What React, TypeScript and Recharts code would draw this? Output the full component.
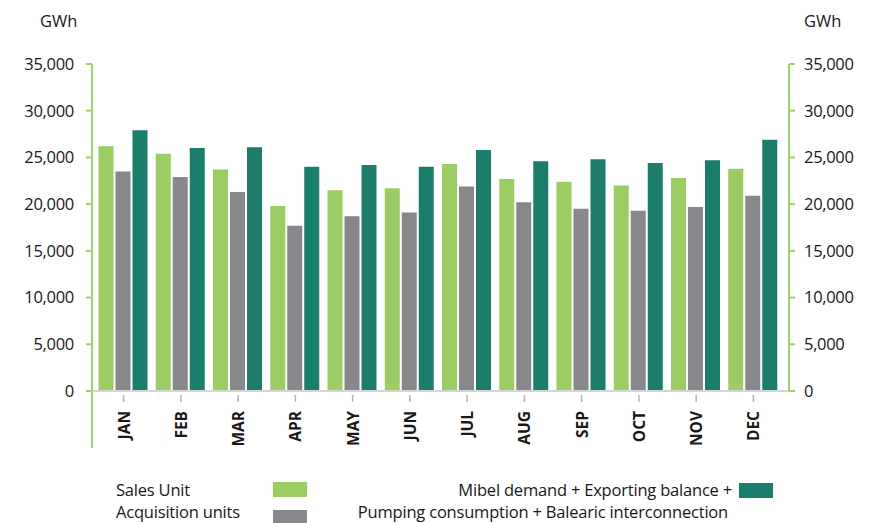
import React from 'react';
import { BarChart, Bar, XAxis, YAxis, Customized } from 'recharts';

const MONTHS = ['JAN', 'FEB', 'MAR', 'APR', 'MAY', 'JUN', 'JUL', 'AUG', 'SEP', 'OCT', 'NOV', 'DEC'];
const SALES_UNIT = [26200, 25400, 23700, 19800, 21500, 21700, 24300, 22700, 22400, 22000, 22800, 23800];
const ACQUISITION_UNITS = [23500, 22900, 21300, 17700, 18700, 19100, 21900, 20200, 19500, 19300, 19700, 20900];
const MIBEL_DEMAND = [27900, 26000, 26100, 24000, 24200, 24000, 25800, 24600, 24800, 24400, 24700, 26900];
const Y_TICKS = [0, 5000, 10000, 15000, 20000, 25000, 30000, 35000];

const data = MONTHS.map((m, i) => ({
  month: m,
  sales: SALES_UNIT[i],
  acquisition: ACQUISITION_UNITS[i],
  mibel: MIBEL_DEMAND[i],
}));

const W = 875;
const H = 523;
const MARGIN = { top: 64, right: 10, bottom: 62, left: 10 };
const LEFT_AXIS_W = 82;
const RIGHT_AXIS_W = 76;
const XAXIS_H = 70;
const FONT = '"Open Sans", "Noto Sans", sans-serif';
const TEXT = '#1a1718';
const AXIS_GREEN = '#9dd36c';
const C_SALES = '#9ccd62';
const C_ACQ = '#88878c';
const C_MIBEL = '#1b7e6c';

const fmt = (v: number) => v.toLocaleString('en-US');

const XTick = (props: any) => {
  const { x, y, payload } = props;
  return (
    <g>
      <line x1={x} x2={x} y1={y + 4} y2={y + 11} stroke="#b5b5b5" strokeWidth={1.5} />
      <text
        x={0}
        y={0}
        transform={`translate(${x},${y + 20}) rotate(-90)`}
        textAnchor="end"
        dominantBaseline="central"
        fontFamily={FONT}
        fontWeight={700}
        fontSize={15.5}
        fill={TEXT}
      >
        {payload.value}
      </text>
    </g>
  );
};

const AxisExtension = () => {
  const x = MARGIN.left + LEFT_AXIS_W;
  const y0 = H - MARGIN.bottom - XAXIS_H;
  return <line x1={x} x2={x} y1={y0} y2={y0 + 57} stroke={AXIS_GREEN} strokeWidth={2} />;
};

const LegendBlock = () => {
  const txt: React.CSSProperties = {
    position: 'absolute',
    fontFamily: FONT,
    fontSize: 16.5,
    color: TEXT,
    whiteSpace: 'nowrap',
    lineHeight: '18px',
    letterSpacing: '-0.2px',
  };
  const sw: React.CSSProperties = { position: 'absolute', width: 34, height: 15 };
  return (
    <div style={{ position: 'absolute', left: 0, top: 470, width: W, height: 53, overflow: 'hidden' }}>
      <div style={{ ...txt, left: 116, top: 11 }}>Sales Unit</div>
      <div style={{ ...sw, left: 273, top: 12, background: C_SALES }} />
      <div style={{ ...txt, left: 116, top: 33 }}>Acquisition units</div>
      <div style={{ ...sw, left: 273, top: 40, background: C_ACQ }} />
      <div style={{ ...txt, right: W - 732, top: 11, textAlign: 'right' }}>Mibel demand + Exporting balance +</div>
      <div style={{ ...txt, right: W - 728, top: 33, textAlign: 'right' }}>Pumping consumption + Balearic interconnection</div>
      <div style={{ ...sw, left: 739, top: 13, background: C_MIBEL }} />
    </div>
  );
};

export default function App() {
  return (
    <div style={{ position: 'absolute', left: 0, top: 0, width: W, height: H, background: '#fff', overflow: 'hidden' }}>
      <BarChart width={W} height={H} data={data} margin={MARGIN} barCategoryGap={3.5} barGap={2}>
        <XAxis
          dataKey="month"
          height={XAXIS_H}
          padding={{ left: 3, right: 7 }}
          axisLine={{ stroke: '#d4d6d3', strokeWidth: 2 }}
          tickLine={false}
          tickSize={0}
          tickMargin={0}
          interval={0}
          tick={<XTick />}
        />
        <YAxis
          yAxisId="left"
          width={LEFT_AXIS_W}
          domain={[0, 35000]}
          ticks={Y_TICKS}
          tickFormatter={fmt}
          axisLine={{ stroke: AXIS_GREEN, strokeWidth: 2 }}
          tickLine={{ stroke: AXIS_GREEN, strokeWidth: 2 }}
          tickSize={6}
          tickMargin={12}
          tick={{ fill: TEXT, fontSize: 16.5, fontFamily: FONT, letterSpacing: -0.3 }}
          label={() => (
            <text x={40} y={27} fontFamily={FONT} fontSize={16.5} fill={TEXT}>
              GWh
            </text>
          )}
        />
        <YAxis
          yAxisId="right"
          orientation="right"
          width={RIGHT_AXIS_W}
          domain={[0, 35000]}
          ticks={Y_TICKS}
          tickFormatter={fmt}
          axisLine={{ stroke: AXIS_GREEN, strokeWidth: 2 }}
          tickLine={{ stroke: AXIS_GREEN, strokeWidth: 2 }}
          tickSize={6}
          tickMargin={9}
          tick={{ fill: TEXT, fontSize: 16.5, fontFamily: FONT, letterSpacing: -0.3 }}
          label={() => (
            <text x={804} y={27} fontFamily={FONT} fontSize={16.5} fill={TEXT}>
              GWh
            </text>
          )}
        />
        <Bar yAxisId="left" dataKey="sales" name="Sales Unit" fill={C_SALES} isAnimationActive={false} />
        <Bar yAxisId="left" dataKey="acquisition" name="Acquisition units" fill={C_ACQ} isAnimationActive={false} />
        <Bar
          yAxisId="right"
          dataKey="mibel"
          name="Mibel demand + Exporting balance + Pumping consumption + Balearic interconnection"
          fill={C_MIBEL}
          isAnimationActive={false}
        />
        <Customized component={AxisExtension} />
      </BarChart>
      <LegendBlock />
    </div>
  );
}
